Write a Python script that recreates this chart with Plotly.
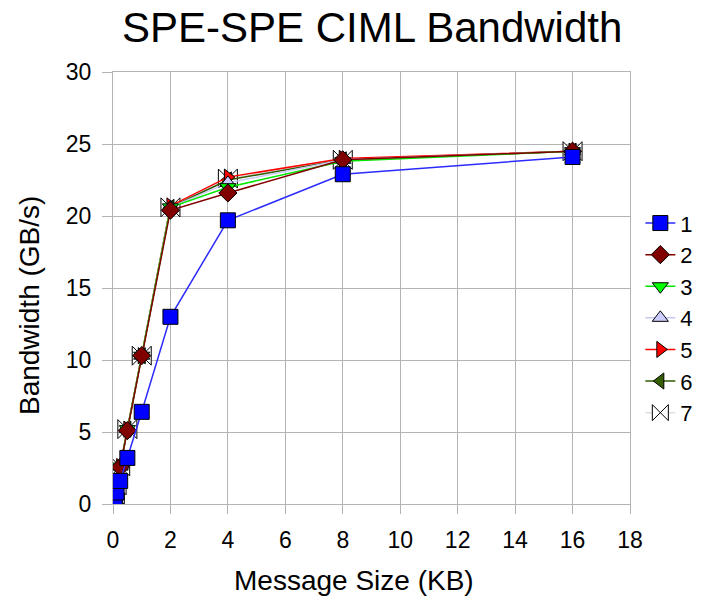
import plotly.graph_objects as go

# Message sizes in KB
sizes = [0.015625, 0.03125, 0.0625, 0.125, 0.25, 0.5, 1, 2, 4, 8, 16]

# Bandwidth (GB/s) per series
bw1 = [0.1, 0.2, 0.4, 0.8, 1.6, 3.2, 6.4, 13.0, 19.7, 22.9, 24.1]
bw2 = [0.16, 0.32, 0.64, 1.28, 2.55, 5.1, 10.3, 20.4, 21.6, 23.9, 24.5]
bw3 = [0.16, 0.32, 0.65, 1.3, 2.6, 5.2, 10.3, 20.6, 22.0, 23.8, 24.5]
bw4 = [0.16, 0.32, 0.65, 1.3, 2.6, 5.2, 10.3, 20.6, 22.3, 23.9, 24.5]
bw5 = [0.16, 0.33, 0.65, 1.3, 2.6, 5.2, 10.3, 20.7, 22.7, 24.0, 24.5]
bw6 = [0.16, 0.33, 0.65, 1.3, 2.6, 5.2, 10.3, 20.6, 22.5, 23.9, 24.5]
bw7 = [0.16, 0.33, 0.65, 1.3, 2.6, 5.2, 10.3, 20.6, 22.6, 23.9, 24.5]

names = ["1", "2", "3", "4", "5", "6", "7"]
values = [bw1, bw2, bw3, bw4, bw5, bw6, bw7]
line_colors = ["#2b2bff", "#800000", "#00e600", "#c8c8f5", "#ff0000", "#2f5a00", "#e0e0e0"]
fill_colors = ["#0000ff", "#800000", "#00ff00", "#ccccff", "#ff0000", "#355e00", "#ffffff"]
symbols = ["square", "diamond", "triangle-down", "triangle-up", "triangle-right", "triangle-left", "bowtie"]
msizes = [15, 14, 14, 14, 14, 14, 19]

fig = go.Figure()
# draw in reverse so series 1 sits on top
for i in reversed(range(len(names))):
    fig.add_trace(go.Scatter(
        x=sizes, y=values[i], name=names[i], mode="lines+markers",
        line=dict(color=line_colors[i], width=1.5),
        marker=dict(symbol=symbols[i], size=msizes[i], color=fill_colors[i],
                    line=dict(color="#000000", width=1)),
    ))

font = "Liberation Sans, Arial, sans-serif"
fig.update_layout(
    width=725, height=607,
    paper_bgcolor="white", plot_bgcolor="white",
    margin=dict(l=113, r=95, t=72, b=103),
    font=dict(family=font, color="#000000"),
    showlegend=True,
    legend=dict(traceorder="reversed", x=1.02, xanchor="left", y=0.43, yanchor="middle",
                font=dict(size=22, family=font), bgcolor="rgba(0,0,0,0)",
                itemwidth=30),
    annotations=[
        dict(text="SPE-SPE CIML Bandwidth", xref="paper", yref="paper",
             x=0.501, y=1.103, xanchor="center", yanchor="middle",
             showarrow=False, font=dict(size=42, family=font)),
        dict(text="Message Size (KB)", xref="paper", yref="paper",
             x=0.466, y=-0.178, xanchor="center", yanchor="middle",
             showarrow=False, font=dict(size=28, family=font)),
        dict(text="Bandwidth (GB/s)", xref="paper", yref="paper",
             x=-0.161, y=0.46, xanchor="center", yanchor="middle", textangle=-90,
             showarrow=False, font=dict(size=28, family=font)),
    ],
)
fig.update_xaxes(
    range=[0, 18], dtick=2, tick0=0,
    showgrid=True, gridcolor="#b3b3b3", gridwidth=1,
    showline=True, linecolor="#b3b3b3", mirror=True,
    ticks="outside", ticklen=9, tickcolor="#b3b3b3",
    zeroline=False, ticklabelstandoff=6,
    tickfont=dict(size=23, family=font),
)
fig.update_yaxes(
    range=[0, 30], dtick=5, tick0=0,
    showgrid=True, gridcolor="#b3b3b3", gridwidth=1,
    showline=True, linecolor="#b3b3b3", mirror=True,
    ticks="outside", ticklen=10, tickcolor="#b3b3b3",
    zeroline=False, ticklabelstandoff=6,
    tickfont=dict(size=23, family=font),
)

fig.write_html("out.html")
